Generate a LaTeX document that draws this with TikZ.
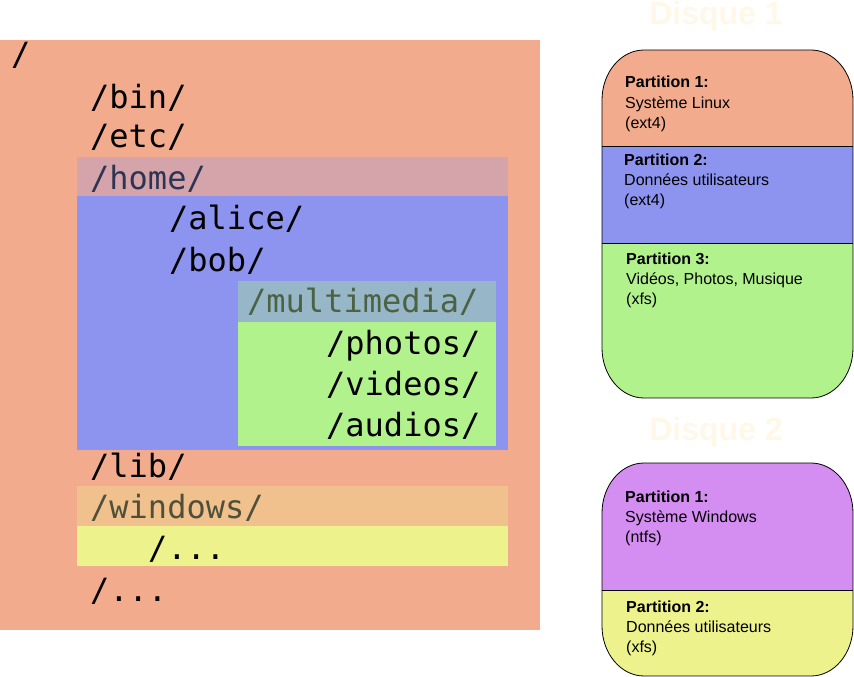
\documentclass[tikz,border=0pt]{standalone}
\usepackage{fontspec}
\setmainfont{Liberation Sans}
\newfontfamily\dirfont{DejaVu Sans Mono}

% fills
\definecolor{rootfill}{HTML}{F2AB8D}
\definecolor{homehead}{HTML}{D4A4AA}
\definecolor{homefill}{HTML}{8C94F0}
\definecolor{mmhead}{HTML}{97B6C8}
\definecolor{mmfill}{HTML}{B1F28D}
\definecolor{winhead}{HTML}{F1C18D}
\definecolor{winfill}{HTML}{EEF28D}
\definecolor{sysfill}{HTML}{D48DF0}
\definecolor{titlecol}{HTML}{FFF8E8}
% header texts
\definecolor{hometext}{HTML}{2E3552}
\definecolor{mmtext}{HTML}{4B6343}
\definecolor{wintext}{HTML}{50503A}

% rounded disk outline, corners rx/ry
\newcommand{\diskshape}[4]{%
  ({#1},{#2+\ry}) .. controls ({#1},{#2+0.45*\ry}) and ({#1+0.45*\rx},{#2}) .. ({#1+\rx},{#2})
  -- ({#3-\rx},{#2}) .. controls ({#3-0.45*\rx},{#2}) and ({#3},{#2+0.45*\ry}) .. ({#3},{#2+\ry})
  -- ({#3},{#4-\ry}) .. controls ({#3},{#4-0.45*\ry}) and ({#3-0.45*\rx},{#4}) .. ({#3-\rx},{#4})
  -- ({#1+\rx},{#4}) .. controls ({#1+0.45*\rx},{#4}) and ({#1},{#4-0.45*\ry}) .. ({#1},{#4-\ry}) -- cycle}

\begin{document}
\begin{tikzpicture}[x=1pt, y=-1pt,
    dir/.style={anchor=base west, inner sep=0pt, font=\dirfont\fontsize{32}{38}\selectfont},
    part/.style={anchor=base west, inner sep=0pt, align=left, font=\fontsize{16}{20}\selectfont},
    disktitle/.style={anchor=base, inner sep=0pt, text=titlecol, font=\bfseries\fontsize{32}{38}\selectfont}]

    \useasboundingbox (0,0) rectangle (854,677);

    % Corner radii of the disks
    \def\rx{42}
    \def\ry{50}

    % Tree background
    \fill[rootfill] (0,40) rectangle (540,630);
    \fill[homehead] (77,157) rectangle (508,196);
    \fill[homefill] (77,196) rectangle (508,450);
    \fill[mmhead] (238,281) rectangle (496,322);
    \fill[mmfill] (238,322) rectangle (496,446);
    \fill[winhead] (77,486) rectangle (508,526);
    \fill[winfill] (77,526) rectangle (508,566);

    % Directories
    \node[dir] (root) at (11,66) {/};
    \node[dir] (bin) at (90,108) {/bin/};
    \node[dir] (etc) at (90,147) {/etc/};
    \node[dir, text=hometext] (home) at (90,189) {/home/};
    \node[dir] (alice) at (169,229) {/alice/};
    \node[dir] (bob) at (169,271) {/bob/};
    \node[dir, text=mmtext] (multimedia) at (247,312) {/multimedia/};
    \node[dir] (photos) at (326,354) {/photos/};
    \node[dir] (videos) at (326,395) {/videos/};
    \node[dir] (audios) at (326,436) {/audios/};
    \node[dir] (lib) at (90,477) {/lib/};
    \node[dir, text=wintext] (windows) at (90,518) {/windows/};
    \node[dir] (winsub) at (148,559) {/...};
    \node[dir] (others) at (90,601) {/...};

    % Disk 1
    \node[disktitle] (disk1) at (716,25) {Disque 1};
    \begin{scope}
        \clip \diskshape{602}{50}{853}{398};
        \fill[rootfill] (602,50) rectangle (853,146);
        \fill[homefill] (602,146) rectangle (853,243);
        \fill[mmfill] (602,243) rectangle (853,398);
        \draw[thin] (602,146) -- (853,146);
        \draw[thin] (602,243) -- (853,243);
    \end{scope}
    \draw[line width=0.8pt] \diskshape{602}{50}{853}{398};

    \node[part] (d1p1) at (625,128) {\textbf{Partition 1:}\\Système Linux\\(ext4)};
    \node[part] (d1p2) at (624,205) {\textbf{Partition 2:}\\Données utilisateurs\\(ext4)};
    \node[part] (d1p3) at (626,304) {\textbf{Partition 3:}\\Vidéos, Photos, Musique\\(xfs)};

    % Disk 2
    \node[disktitle] (disk2) at (716,440) {Disque 2};
    \begin{scope}
        \clip \diskshape{602}{463}{853}{676};
        \fill[sysfill] (602,463) rectangle (853,590);
        \fill[winfill] (602,590) rectangle (853,676);
        \draw[thin] (602,590) -- (853,590);
    \end{scope}
    \draw[line width=0.8pt] \diskshape{602}{463}{853}{676};

    \node[part] (d2p1) at (625,542) {\textbf{Partition 1:}\\Système Windows\\(ntfs)};
    \node[part] (d2p2) at (626,652) {\textbf{Partition 2:}\\Données utilisateurs\\(xfs)};

\end{tikzpicture}
\end{document}
